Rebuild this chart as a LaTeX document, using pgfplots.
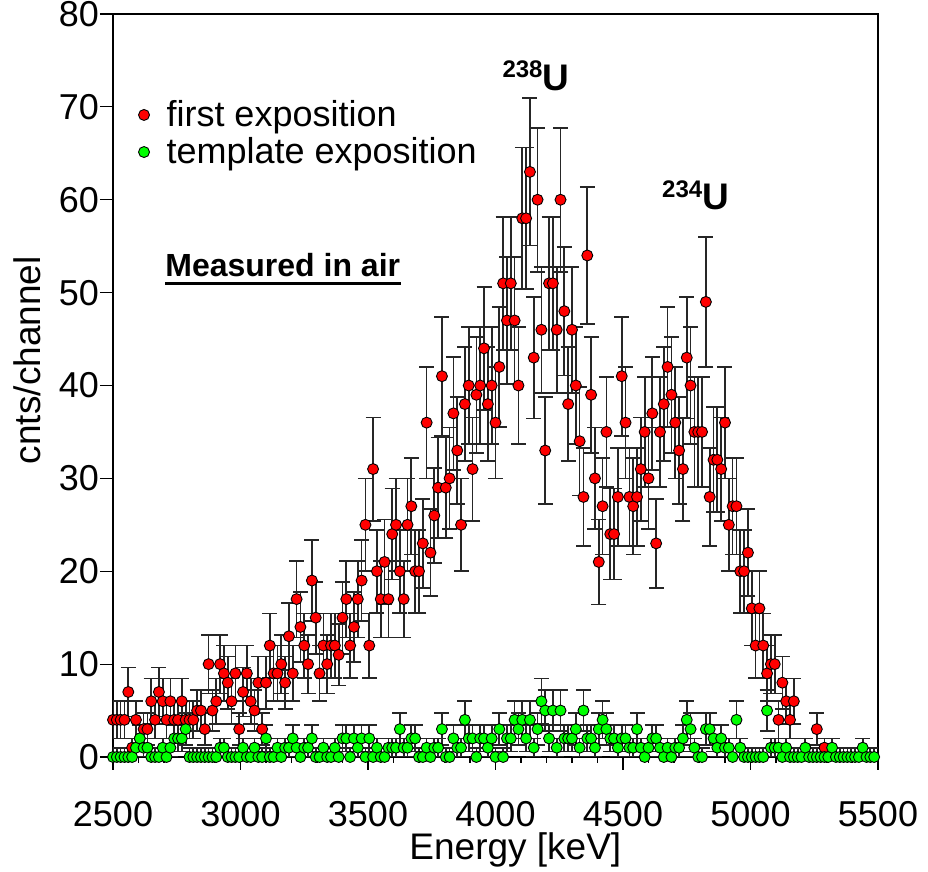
\documentclass[border=0pt]{standalone}
\usepackage{pgfplots}
\pgfplotsset{compat=1.18}
\usepackage{pgfplotstable}
\usepackage{fontspec}
\setmainfont{Liberation Sans}

\pgfplotstableread{
E N
2500 4
2515 4
2530 4
2545 4
2560 7
2575 1
2590 4
2605 2
2620 3
2635 3
2650 6
2665 4
2680 7
2695 6
2710 4
2725 6
2740 4
2755 4
2770 6
2785 4
2800 4
2815 4
2830 5
2845 5
2860 3
2875 10
2890 5
2905 6
2920 10
2935 9
2950 8
2965 6
2980 9
2995 3
3010 7
3025 9
3040 6
3055 5
3070 8
3085 3
3100 8
3115 12
3130 9
3145 9
3160 10
3175 8
3190 13
3205 9
3220 17
3235 14
3250 12
3265 10
3280 19
3295 15
3310 9
3325 12
3340 10
3355 12
3370 12
3385 11
3400 15
3415 17
3430 12
3445 14
3460 17
3475 19
3490 25
3505 12
3520 31
3535 20
3550 17
3565 21
3580 17
3595 24
3610 25
3625 20
3640 17
3655 25
3670 27
3685 20
3700 20
3715 23
3730 36
3745 22
3760 26
3775 29
3790 41
3805 29
3820 30
3835 37
3850 33
3865 25
3880 38
3895 40
3910 31
3925 39
3940 40
3955 44
3970 38
3985 40
4000 36
4015 42
4030 51
4045 47
4060 51
4075 47
4090 40
4105 58
4120 58
4135 63
4150 43
4165 60
4180 46
4195 33
4210 51
4225 51
4240 46
4255 60
4270 48
4285 38
4300 46
4315 40
4330 34
4345 28
4360 54
4375 39
4390 30
4405 21
4420 27
4435 35
4450 24
4465 24
4480 28
4495 41
4510 36
4525 28
4540 27
4555 28
4570 31
4585 35
4600 30
4615 37
4630 23
4645 35
4660 38
4675 42
4690 39
4705 36
4720 33
4735 31
4750 43
4765 40
4780 35
4795 35
4810 35
4825 49
4840 28
4855 32
4870 32
4885 31
4900 36
4915 25
4930 27
4945 27
4960 20
4975 20
4990 22
5005 16
5020 12
5035 16
5050 12
5065 9
5080 10
5095 10
5110 4
5125 8
5140 6
5155 4
5170 6
5260 3
5290 1
}\firsttable

\pgfplotstableread{
E N
2500 0
2515 0
2530 0
2545 0
2560 0
2575 0
2590 1
2605 2
2620 1
2635 1
2650 0
2665 0
2680 0
2695 1
2710 0
2725 1
2740 2
2755 2
2770 2
2785 3
2800 0
2815 0
2830 0
2845 0
2860 0
2875 0
2890 0
2905 0
2920 1
2935 1
2950 0
2965 0
2980 0
2995 0
3010 1
3025 0
3040 0
3055 1
3070 0
3085 0
3100 2
3115 0
3130 0
3145 1
3160 0
3175 1
3190 1
3205 2
3220 1
3235 0
3250 1
3265 1
3280 2
3295 0
3310 0
3325 1
3340 0
3355 0
3370 1
3385 0
3400 2
3415 2
3430 0
3445 2
3460 1
3475 2
3490 0
3505 2
3520 0
3535 1
3550 0
3565 0
3580 1
3595 1
3610 1
3625 3
3640 1
3655 1
3670 2
3685 2
3700 0
3715 0
3730 1
3745 0
3760 1
3775 1
3790 3
3805 0
3820 0
3835 2
3850 1
3865 1
3880 4
3895 2
3910 2
3925 0
3940 2
3955 2
3970 1
3985 2
4000 0
4015 3
4030 0
4045 2
4060 2
4075 4
4090 3
4105 4
4120 2
4135 4
4150 1
4165 3
4180 6
4195 5
4210 2
4225 5
4240 1
4255 5
4270 2
4285 2
4300 2
4315 3
4330 1
4345 5
4360 2
4375 2
4390 1
4405 3
4420 4
4435 3
4450 2
4465 2
4480 1
4495 2
4510 2
4525 1
4540 1
4555 3
4570 1
4585 0
4600 1
4615 2
4630 2
4645 1
4660 0
4675 1
4690 0
4705 1
4720 1
4735 2
4750 4
4765 3
4780 1
4795 0
4810 0
4825 3
4840 3
4855 2
4870 1
4885 2
4900 1
4915 1
4930 0
4945 4
4960 1
4975 0
4990 0
5005 0
5020 0
5035 0
5050 0
5065 5
5080 1
5095 1
5110 1
5125 0
5140 1
5155 0
5170 0
5185 0
5200 0
5215 1
5230 0
5245 0
5260 0
5275 0
5290 0
5305 0
5320 1
5335 0
5350 0
5365 0
5380 0
5395 0
5410 0
5425 0
5440 1
5455 0
5470 0
5485 0
}\templatetable

\begin{document}
\begin{tikzpicture}
\begin{axis}[
  scale only axis,
  width=382.5pt, height=371.5pt,
  xmin=2500, xmax=5500, ymin=0, ymax=80,
  xtick={2500,3000,...,5500},
  minor x tick num=4,
  ytick={0,10,...,80},
  tick pos=left,
  tick align=outside,
  major tick length=6.5pt,
  minor tick length=3pt,
  tick style={black, line width=0.6pt},
  axis line style={black, line width=0.6pt},
  /pgf/number format/assume math mode=true,
  /pgf/number format/1000 sep={},
  ticklabel style={font=\fontsize{18}{21}\selectfont},
  xticklabel style={yshift=-12pt},
  yticklabel style={xshift=3pt},
  xlabel={Energy [keV]},
  ylabel={cnts/channel},
  label style={font=\fontsize{18.5}{21}\selectfont},
  xlabel style={at={(axis description cs:0.526,-0.1386)}, anchor=base},
  ylabel style={at={(axis description cs:-0.0954,0.534)}, anchor=base, rotate=0},
  legend style={at={(axis description cs:0.025,0.895)}, anchor=north west, draw=none, fill=none,
    font=\fontsize{18}{21}\selectfont, row sep=0pt},
  legend cell align=left,
]
\addplot+[only marks, mark=*, mark size=2.75pt,
  mark options={fill=red, draw=black, line width=0.45pt},
  error bars/.cd, y dir=both, y explicit,
  error bar style={line width=0.85pt, black!85},
  error mark options={rotate=90, line width=0.85pt, mark size=3.75pt, black!85}]
  table[x=E, y=N, y error expr={sqrt(max(\thisrow{N},1))}] {\firsttable};
\addlegendentry{\hspace{6.5pt}first exposition}
\addplot+[only marks, mark=*, mark size=2.75pt,
  mark options={fill=green, draw=black, line width=0.45pt},
  error bars/.cd, y dir=both, y explicit,
  error bar style={line width=0.85pt, black!85},
  error mark options={rotate=90, line width=0.85pt, mark size=3.75pt, black!85}]
  table[x=E, y=N, y error expr={sqrt(max(\thisrow{N},1))}] {\templatetable};
\addlegendentry{\hspace{6.5pt}template exposition}

\node[anchor=base west, inner sep=0pt] at (axis cs:4026,71.8)
  {\bfseries\raisebox{6.3pt}{\fontsize{12}{14}\selectfont 238}\fontsize{18.5}{21}\selectfont U};
\node[anchor=base west, inner sep=0pt] at (axis cs:4652,58.9)
  {\bfseries\raisebox{6.3pt}{\fontsize{12}{14}\selectfont 234}\fontsize{18.5}{21}\selectfont U};
\node (m) [anchor=base west, inner sep=0pt, font=\fontsize{16}{19}\selectfont\bfseries] at (axis cs:2704,51.7) {Measured in air};
\draw[line width=1.4pt] ([yshift=-3.2pt]m.base west) -- ([yshift=-3.2pt]m.base east);
\end{axis}
\pgfresetboundingbox
\path[use as bounding box] (-56.5pt,-57.5pt) rectangle (407.5pt,378.5pt);
\end{tikzpicture}
\end{document}
